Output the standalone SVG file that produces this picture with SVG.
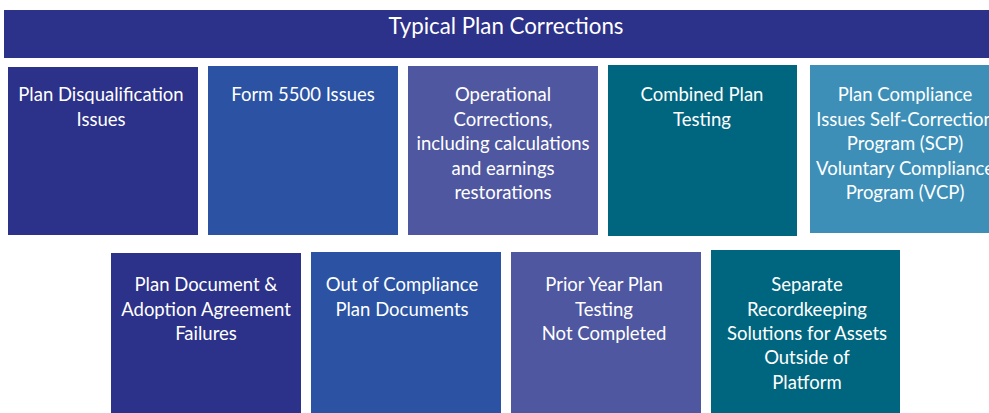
<svg xmlns="http://www.w3.org/2000/svg" width="989" height="413" viewBox="0 0 989 413">
<style>
text{font-family:Lato,"Open Sans","Liberation Sans",sans-serif;fill:#ffffff;text-anchor:middle;font-size:18.5px}
.t{font-size:22.3px}
.c1{fill:#2c3189}.c2{fill:#2b52a3}.c3{fill:#4f57a0}.c4{fill:#006680}.c5{fill:#3d8fb8}
</style>
<rect width="989" height="413" fill="#ffffff"/>
<g id="header"><rect class="c1" x="4" y="10" width="1004" height="48"/><text class="t" x="506" y="34">Typical Plan Corrections</text></g>
<g id="n1"><rect class="c1" x="8" y="67" width="190" height="168"/><text x="101" y="101">Plan Disqualification</text><text x="101" y="126">Issues</text></g>
<g id="n2"><rect class="c2" x="208" y="66" width="190" height="169"/><text x="303" y="101">Form 5500 Issues</text></g>
<g id="n3"><rect class="c3" x="408" y="66" width="190" height="169"/><text x="503" y="101">Operational</text><text x="503" y="126">Corrections,</text><text x="503" y="150">including calculations</text><text x="503" y="175">and earnings</text><text x="503" y="199">restorations</text></g>
<g id="n4"><rect class="c4" x="608" y="65" width="189" height="171"/><text x="702" y="101">Combined Plan</text><text x="702" y="126">Testing</text></g>
<g id="n5"><rect class="c5" x="810" y="65" width="190" height="168"/><text x="905" y="101">Plan Compliance</text><text x="905" y="126">Issues Self-Correction</text><text x="905" y="150">Program (SCP)</text><text x="905" y="175">Voluntary Compliance</text><text x="905" y="199">Program (VCP)</text></g>
<g id="n6"><rect class="c1" x="111" y="253" width="190" height="160"/><text x="206" y="291">Plan Document &amp;</text><text x="206" y="316">Adoption Agreement</text><text x="206" y="340">Failures</text></g>
<g id="n7"><rect class="c2" x="311" y="252" width="190" height="161"/><text x="402" y="291">Out of Compliance</text><text x="402" y="316">Plan Documents</text></g>
<g id="n8"><rect class="c3" x="511" y="252" width="190" height="161"/><text x="604" y="291">Prior Year Plan</text><text x="604" y="316">Testing</text><text x="604" y="340">Not Completed</text></g>
<g id="n9"><rect class="c4" x="711" y="250" width="189" height="163"/><text x="807" y="291">Separate</text><text x="807" y="316">Recordkeeping</text><text x="807" y="340">Solutions for Assets</text><text x="807" y="364">Outside of</text><text x="807" y="389">Platform</text></g>
<g id="connectors"></g>
</svg>
